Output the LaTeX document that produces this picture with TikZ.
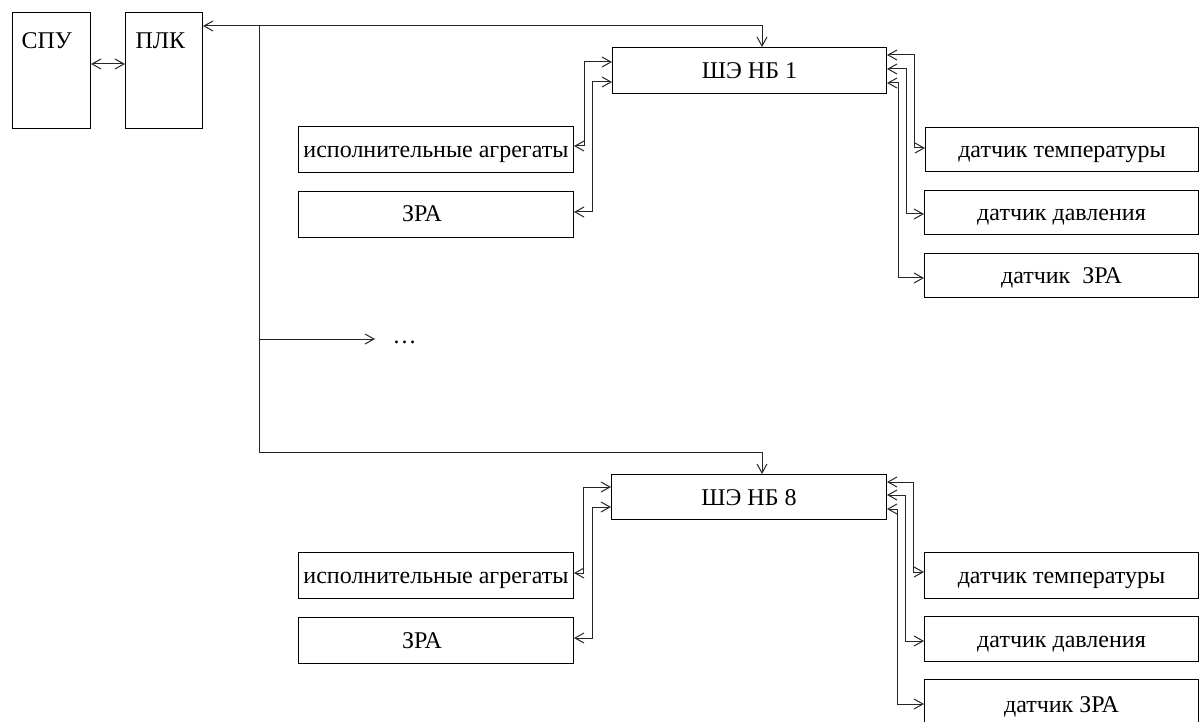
\documentclass[tikz,border=0pt]{standalone}
\usepackage{fontspec}
\setmainfont{Liberation Serif}
\usetikzlibrary{arrows.meta}
\begin{document}
\begin{tikzpicture}[x=1pt,y=-1pt,
  >={Straight Barb[length=9pt,width=10pt]},
  every path/.style={line width=1pt},
  txt/.style={font=\fontsize{24}{28}\selectfont, text height=16pt, text depth=0pt},
  box/.style={draw, line width=1pt, inner sep=0pt, anchor=north west, txt},
  wh/.style 2 args={minimum width=#1pt, minimum height=#2pt},
  lbl/.style={inner sep=0pt, txt},
  wire/.style={draw=black!85, line width=1pt}
]
\useasboundingbox (0,0) rectangle (1200,722);

% control level
\node[box, wh={78}{116}] (spu) at (12,12) {};
\node[lbl, anchor=west] (spuT) at (21,41) {СПУ};
\node[box, wh={77}{116}] (plk) at (125,12) {};
\node[lbl, anchor=west] (plkT) at (135,41) {ПЛК};
\draw[wire, <->] (spu.east |- 0,64) -- (plk.west |- 0,64);

% cabinet 1
\node[box, wh={274}{46}] (she1) at (612,47) {ШЭ НБ 1};
\node[box, wh={275}{46}] (ia1) at (298,126) {исполнительные агрегаты};
\node[box, wh={275}{46}] (zra1) at (298,191) {};
\node[lbl] (zra1T) at (422,214) {ЗРА};
\node[box, wh={273}{44}] (dt1) at (925,127) {датчик температуры};
\node[box, wh={274}{44}] (dd1) at (924,190) {датчик давления};
\node[box, wh={274}{44}] (dz1) at (924,253) {датчик\ \ ЗРА};

\draw[wire, <->] (she1.west |- 0,62) -| (584,146) -- (ia1.east |- 0,146);
\draw[wire, <->] (she1.west |- 0,82) -| (592,212) -- (zra1.east |- 0,212);
\draw[wire, <->] (she1.east |- 0,55) -| (914,148) -- (dt1.west |- 0,148);
\draw[wire, <->] (she1.east |- 0,69) -| (906,214) -- (dd1.west |- 0,214);
\draw[wire, <->] (she1.east |- 0,83) -| (898,278) -- (dz1.west |- 0,278);

% cabinet 8
\node[box, wh={275}{45}] (she8) at (611,474) {ШЭ НБ 8};
\node[box, wh={275}{46}] (ia8) at (298,552) {исполнительные агрегаты};
\node[box, wh={275}{46}] (zra8) at (298,617) {};
\node[lbl] (zra8T) at (422,640) {ЗРА};
\node[box, wh={274}{46}] (dt8) at (924,552) {датчик температуры};
\node[box, wh={274}{45}] (dd8) at (924,616) {датчик давления};
\node[box, wh={274}{50}] (dz8) at (924,679) {датчик ЗРА};

\draw[wire, <->] (she8.west |- 0,487) -| (583,573) -- (ia8.east |- 0,573);
\draw[wire, <->] (she8.west |- 0,507) -| (592,638) -- (zra8.east |- 0,638);
\draw[wire, <->] (she8.east |- 0,482) -| (913,572) -- (dt8.west |- 0,572);
\draw[wire, <->] (she8.east |- 0,495) -| (905,641) -- (dd8.west |- 0,641);
\draw[wire, <->] (she8.east |- 0,509) -| (897,704) -- (dz8.west |- 0,704);

% field bus
\coordinate (j1) at (259,26);
\coordinate (jd) at (259,339);
\coordinate (j8) at (259,452);
\node[inner sep=0pt, font=\fontsize{24}{28}\selectfont, anchor=base west] (dots) at (392,343) {…};
\draw[wire, <->] (plk.east |- j1) -- (762,26) -- (762,0 |- she1.north);
\draw[wire] (j1) -- (j8);
\draw[wire, ->] (j8) -| (762,0 |- she8.north);
\draw[wire, ->] (jd) -- (375,339);
\end{tikzpicture}
\end{document}
